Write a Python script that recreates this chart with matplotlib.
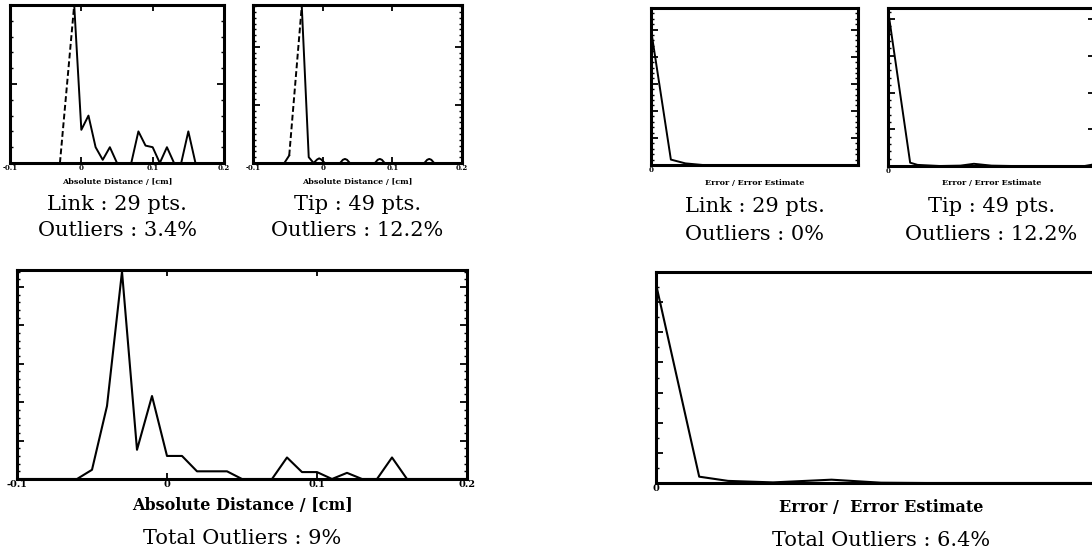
import matplotlib
matplotlib.use("Agg")
import matplotlib.pyplot as plt
from matplotlib.ticker import MultipleLocator

plt.rcParams['font.family'] = ['DejaVu Serif']

# --- data (counts per bin) ---
# absolute distance histograms [cm]
link_dist_x = [-0.03, -0.01, 0.0, 0.01, 0.02, 0.03, 0.04, 0.05, 0.07, 0.08, 0.09, 0.10,
               0.11, 0.12, 0.13, 0.14, 0.15, 0.16]
link_dist_y = [0, 10, 2.1, 3, 1, 0.2, 1, 0, 0, 2, 1.1, 1, 0, 1, 0, 0, 2, 0]

tip_dist_x = [-0.1, -0.055, -0.048, -0.03, -0.02, -0.013, -0.008, -0.005, -0.002, 0.003,
              0.025, 0.029, 0.032, 0.035, 0.039, 0.075, 0.079, 0.082, 0.085, 0.089,
              0.146, 0.15, 0.153, 0.156, 0.16, 0.2]
tip_dist_y = [0, 0, 1.3, 27, 1.0, 0, 0.6, 0.8, 0.6, 0, 0, 0.55, 0.7, 0.55, 0,
              0, 0.55, 0.7, 0.55, 0, 0, 0.55, 0.7, 0.55, 0, 0]

total_dist_x = [-0.1, -0.06, -0.05, -0.04, -0.03, -0.02, -0.01, 0.0, 0.01, 0.02, 0.03, 0.04,
                0.05, 0.06, 0.07, 0.08, 0.09, 0.10, 0.11, 0.12, 0.13, 0.14, 0.15, 0.16, 0.2]
total_dist_y = [0, 0, 1.2, 9.5, 27, 3.8, 10.8, 3, 3, 1, 1, 1, 0, 0, 0, 2.8, 0.9, 0.9, 0,
                0.8, 0, 0, 2.8, 0, 0]

# error / error estimate histograms
link_err_x = [0, 0.96, 1.66, 2.5, 10]
link_err_y = [25, 1.0, 0.3, 0, 0]

tip_err_x = [0, 1.07, 1.43, 2.5, 3.5, 4.15, 5.0, 6.0, 9.5, 10]
tip_err_y = [42.5, 0.9, 0.3, 0, 0.1, 0.6, 0.1, 0, 0, 0.5]

total_err_x = [0, 0.96, 1.6, 2.6, 3.9, 5.0, 6.0, 10]
total_err_y = [66, 2.1, 0.7, 0.2, 1.1, 0.1, 0, 0]

dist_ticks = [-0.1, 0, 0.1, 0.2]
dist_labels = ['-0.1', '0', '0.1', '0.2']

W, H = 1092, 552
fig = plt.figure(figsize=(W / 100, H / 100), dpi=100)


def px_axes(x0, x1, y0, y1):
    return fig.add_axes([x0 / W, 1 - y1 / H, (x1 - x0) / W, (y1 - y0) / H])


def style(ax, ymax, major, minor, small):
    ax.set_ylim(0, ymax)
    for s in ax.spines.values():
        s.set_linewidth(2.2)
    ax.yaxis.set_major_locator(MultipleLocator(major))
    ax.yaxis.set_minor_locator(MultipleLocator(minor))
    ax.tick_params(axis='y', which='both', direction='in', left=True, right=True,
                   labelleft=False)
    ax.tick_params(axis='y', which='major', length=5, width=1.3)
    ax.tick_params(axis='y', which='minor', length=2.5, width=1.0)
    ax.tick_params(axis='x', which='major', direction='in', top=True, length=4,
                   width=1.3, pad=1, labelsize=5 if small else 7)
    for t in ax.get_xticklabels():
        t.set_fontweight('bold')


def caption(ax, lines, ys, size=15):
    p = ax.get_position()
    for txt, y in zip(lines, ys):
        fig.text((p.x0 + p.x1) / 2, 1 - y / H, txt, ha='center', va='center',
                 fontsize=size)


def xlab(ax, txt, y, size):
    p = ax.get_position()
    fig.text((p.x0 + p.x1) / 2, 1 - y / H, txt, ha='center', va='center',
             fontsize=size, fontweight='bold')


def dist_axes(ax):
    ax.set_xlim(-0.1, 0.2)
    ax.set_xticks(dist_ticks)
    ax.set_xticklabels(dist_labels)


def err_axes(ax):
    ax.set_xlim(0, 10)
    ax.set_xticks([0])
    ax.set_xticklabels(['0'])


# top left: link distance
ax1 = px_axes(10, 224, 5, 163)
dist_axes(ax1)
ax1.plot(link_dist_x[:2], link_dist_y[:2], color='k', lw=1.4, ls=(0, (3, 1.5)))
ax1.plot(link_dist_x[1:], link_dist_y[1:], color='k', lw=1.4)
style(ax1, 10, 5, 1, True)
xlab(ax1, 'Absolute Distance / [cm]', 182, 5.8)
caption(ax1, ['Link : 29 pts.', 'Outliers : 3.4%'], [205, 231])

# top: tip distance
ax2 = px_axes(253, 462, 5, 163)
dist_axes(ax2)
ax2.plot(tip_dist_x[:3], tip_dist_y[:3], color='k', lw=1.4)
ax2.plot(tip_dist_x[2:4], tip_dist_y[2:4], color='k', lw=1.4, ls=(0, (3, 1.5)))
ax2.plot(tip_dist_x[3:], tip_dist_y[3:], color='k', lw=1.4)
style(ax2, 27.2, 10, 1, True)
xlab(ax2, 'Absolute Distance / [cm]', 182, 5.8)
caption(ax2, ['Tip : 49 pts.', 'Outliers : 12.2%'], [205, 231])

# top right: link error
ax3 = px_axes(651, 858, 8, 165)
err_axes(ax3)
ax3.plot(link_err_x, link_err_y, color='k', lw=1.4)
style(ax3, 29, 5, 1, True)
xlab(ax3, 'Error / Error Estimate', 183, 5.8)
caption(ax3, ['Link : 29 pts.', 'Outliers : 0%'], [207, 235])

# top right: tip error
ax4 = px_axes(888, 1095, 8, 166)
err_axes(ax4)
ax4.plot(tip_err_x, tip_err_y, color='k', lw=1.4)
style(ax4, 43, 10, 2, True)
xlab(ax4, 'Error / Error Estimate', 183, 5.8)
caption(ax4, ['Tip : 49 pts.', 'Outliers : 12.2%'], [207, 235])

# bottom left: total distance
ax5 = px_axes(17, 467, 270, 479)
dist_axes(ax5)
ax5.plot(total_dist_x, total_dist_y, color='k', lw=1.5)
style(ax5, 27.2, 5, 1, False)
xlab(ax5, 'Absolute Distance / [cm]', 505, 11.5)
caption(ax5, ['Total Outliers : 9%'], [538])

# bottom right: total error
ax6 = px_axes(656, 1106, 272, 483)
err_axes(ax6)
ax6.plot(total_err_x, total_err_y, color='k', lw=1.5)
style(ax6, 70, 10, 5, False)
xlab(ax6, 'Error /  Error Estimate', 507, 11.5)
caption(ax6, ['Total Outliers : 6.4%'], [540])

fig.savefig('out.png', dpi=100)
